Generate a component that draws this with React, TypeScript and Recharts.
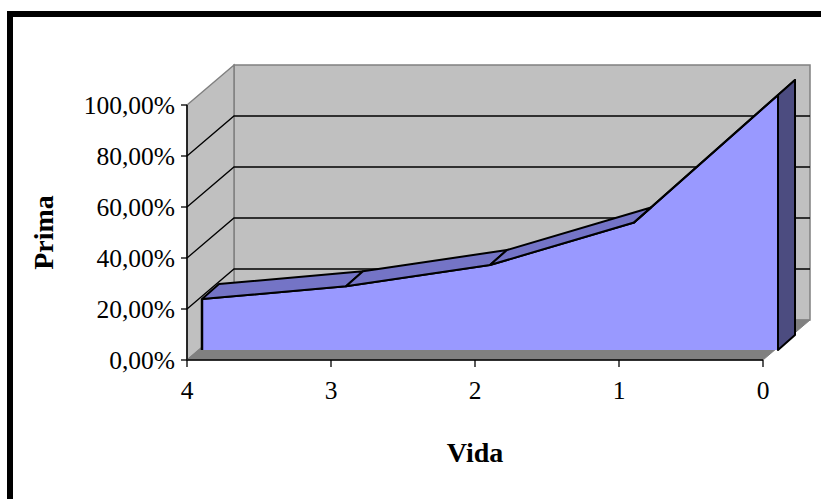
import React from "react";
import {
  ComposedChart,
  Area,
  Line,
  XAxis,
  YAxis,
  ReferenceArea,
  ReferenceLine,
} from "recharts";

const vida = ["4", "3", "2", "1", "0"];
const prima = [0.2, 0.25, 0.3333, 0.5, 1];
const primaTicks = [0, 0.2, 0.4, 0.6, 0.8, 1];

const data = vida.map((v, i) => ({ vida: v, prima: prima[i] }));

// depth offsets (px) for the oblique 3D look
const WALL_DX = 47;
const WALL_DY = 40;
const FACE_DX = 15;
const FACE_DY = 10;
const TOP_DX = 17;
const TOP_DY = 15;

const FONT = "'Liberation Serif', 'Times New Roman', serif";

const WALL = "#c0c0c0";
const WALL_EDGE = "#808080";
const FLOOR = "#808080";
const FRONT = "#9999ff";
const TOP = "#7474c6";
const SIDE = "#4c4c80";

const pct = (v: number) => (v * 100).toFixed(2).replace(".", ",") + "%";

const pts = (arr: number[][]) => arr.map((p) => p.join(",")).join(" ");

// left wall, with the y axis line along its front edge
const SideWall = (p: any) => {
  const x = p.x1;
  const top = Math.min(p.y1, p.y2);
  const bot = Math.max(p.y1, p.y2);
  return (
    <g>
      <polygon
        points={pts([
          [x, bot],
          [x, top],
          [x + WALL_DX, top - WALL_DY],
          [x + WALL_DX, bot - WALL_DY],
        ])}
        fill={WALL}
        stroke={WALL_EDGE}
        strokeWidth={1.5}
      />
      <line x1={x} y1={top} x2={x} y2={bot} stroke="#000" strokeWidth={1.5} />
    </g>
  );
};

// floor slab, with the x axis line along its front edge
const Floor = (p: any) => {
  const l = Math.min(p.x1, p.x2);
  const r = Math.max(p.x1, p.x2);
  const y = p.y1;
  return (
    <g>
      <polygon
        points={pts([
          [l, y],
          [r, y],
          [r + WALL_DX, y - WALL_DY],
          [l + WALL_DX, y - WALL_DY],
        ])}
        fill={FLOOR}
        stroke={WALL_EDGE}
        strokeWidth={1}
      />
      <line x1={l} y1={y} x2={r} y2={y} stroke="#000" strokeWidth={1.5} />
    </g>
  );
};

// gridline: diagonal across the left wall, then along the back wall
const GridLine = (p: any) => {
  const l = Math.min(p.x1, p.x2);
  const r = Math.max(p.x1, p.x2);
  const y = p.y1;
  return (
    <polyline
      points={pts([
        [l, y],
        [l + WALL_DX, y - WALL_DY],
        [r, y - WALL_DY],
      ])}
      fill="none"
      stroke="#000"
      strokeWidth={1.3}
    />
  );
};

// sloped top of the area between two neighbouring points
const TopFace = (p: any) => (
  <polygon
    points={pts([
      [p.x1, p.y1],
      [p.x2, p.y2],
      [p.x2 + TOP_DX, p.y2 - TOP_DY],
      [p.x1 + TOP_DX, p.y1 - TOP_DY],
    ])}
    fill={TOP}
    stroke="#000"
    strokeWidth={2}
    strokeLinejoin="round"
  />
);

// right end cap of the area
const EndFace = (p: any) => {
  const x = p.x1;
  const top = Math.min(p.y1, p.y2);
  const bot = Math.max(p.y1, p.y2);
  return (
    <polygon
      points={pts([
        [x, bot],
        [x, top],
        [x + TOP_DX, top - TOP_DY],
        [x + TOP_DX, bot - TOP_DY],
      ])}
      fill={SIDE}
      stroke="#000"
      strokeWidth={2}
      strokeLinejoin="round"
    />
  );
};

const YTitle = (p: any) => {
  const vb = p.viewBox;
  const x = vb.x + 23;
  const y = vb.y + WALL_DY + (vb.height - WALL_DY) / 2;
  return (
    <text
      x={x}
      y={y}
      transform={`rotate(-90, ${x}, ${y})`}
      textAnchor="middle"
      dominantBaseline="central"
      fontFamily={FONT}
      fontSize={28}
      fontWeight="bold"
      fill="#000"
    >
      Prima
    </text>
  );
};

const XTitle = (p: any) => {
  const vb = p.viewBox;
  const x = vb.x + (vb.width - WALL_DX) / 2;
  return (
    <text
      x={x}
      y={462}
      textAnchor="middle"
      fontFamily={FONT}
      fontSize={28}
      fontWeight="bold"
      fill="#000"
    >
      Vida
    </text>
  );
};

const tickStyle = { fill: "#000", fontSize: 25.5, fontFamily: FONT };

export default function App() {
  const last = vida.length - 1;
  return (
    <div
      style={{
        position: "fixed",
        left: 0,
        top: 0,
        width: 821,
        height: 499,
        overflow: "hidden",
        background: "#fff",
      }}
    >
      <div
        style={{
          position: "absolute",
          left: 7,
          top: 11,
          width: 900,
          height: 600,
          borderLeft: "6px solid #000",
          borderTop: "6px solid #000",
        }}
      />
      <div style={{ position: "absolute", left: 0, top: 0 }}>
        <ComposedChart
          width={821}
          height={499}
          data={data}
          margin={{ top: 65, right: 11, bottom: 79, left: 20 }}
        >
          <XAxis
            xAxisId="front"
            dataKey="vida"
            padding={{ left: 0, right: WALL_DX }}
            axisLine={false}
            tickLine={{ stroke: "#000", strokeWidth: 1.3 }}
            tickSize={7}
            tickMargin={14}
            tick={tickStyle}
            interval={0}
            height={60}
            label={{ content: XTitle }}
          />
          <XAxis
            xAxisId="face"
            dataKey="vida"
            hide
            height={0}
            padding={{ left: FACE_DX, right: WALL_DX - FACE_DX }}
          />
          <XAxis
            xAxisId="back"
            dataKey="vida"
            hide
            height={0}
            padding={{ left: WALL_DX, right: 0 }}
          />
          <YAxis
            yAxisId="front"
            type="number"
            domain={[0, 1]}
            ticks={primaTicks}
            interval={0}
            tickFormatter={pct}
            padding={{ top: WALL_DY, bottom: 0 }}
            axisLine={false}
            tickLine={{ stroke: "#000", strokeWidth: 1.3 }}
            tickSize={6}
            tickMargin={6}
            tick={tickStyle}
            width={167}
            label={{ content: YTitle }}
          />
          <YAxis
            yAxisId="face"
            type="number"
            domain={[0, 1]}
            hide
            width={0}
            padding={{ top: WALL_DY - FACE_DY, bottom: FACE_DY }}
          />
          <YAxis
            yAxisId="back"
            type="number"
            domain={[0, 1]}
            hide
            width={0}
            padding={{ top: 0, bottom: WALL_DY }}
          />

          {/* unstroked series that tie the front and back axes to the data */}
          <Line
            xAxisId="front"
            yAxisId="front"
            dataKey="prima"
            stroke="none"
            dot={false}
            activeDot={false}
            legendType="none"
            isAnimationActive={false}
          />
          <Line
            xAxisId="back"
            yAxisId="back"
            dataKey="prima"
            stroke="none"
            dot={false}
            activeDot={false}
            legendType="none"
            isAnimationActive={false}
          />

          {/* back wall */}
          <ReferenceArea
            xAxisId="back"
            yAxisId="back"
            x1={vida[0]}
            x2={vida[last]}
            y1={0}
            y2={1}
            fill={WALL}
            fillOpacity={1}
            stroke={WALL_EDGE}
            strokeWidth={1.5}
            zIndex={10}
          />
          {/* left wall */}
          <ReferenceLine
            xAxisId="front"
            yAxisId="front"
            segment={[
              { x: vida[0], y: 0 },
              { x: vida[0], y: 1 },
            ]}
            shape={SideWall}
            zIndex={11}
          />
          {/* floor */}
          <ReferenceLine
            xAxisId="front"
            yAxisId="front"
            segment={[
              { x: vida[0], y: 0 },
              { x: vida[last], y: 0 },
            ]}
            shape={Floor}
            zIndex={12}
          />
          {primaTicks.slice(1, -1).map((t) => (
            <ReferenceLine
              key={t}
              xAxisId="front"
              yAxisId="front"
              y={t}
              shape={GridLine}
              zIndex={13}
            />
          ))}

          <Area
            xAxisId="face"
            yAxisId="face"
            type="linear"
            dataKey="prima"
            fill={FRONT}
            fillOpacity={1}
            stroke="#000"
            strokeWidth={2}
            dot={false}
            activeDot={false}
            isAnimationActive={false}
            zIndex={100}
          />

          {/* left edge of the front face */}
          <ReferenceLine
            xAxisId="face"
            yAxisId="face"
            segment={[
              { x: vida[0], y: 0 },
              { x: vida[0], y: prima[0] },
            ]}
            stroke="#000"
            strokeWidth={2.5}
            zIndex={450}
          />
          {vida.slice(0, -1).map((v, i) => (
            <ReferenceLine
              key={v}
              xAxisId="face"
              yAxisId="face"
              segment={[
                { x: v, y: prima[i] },
                { x: vida[i + 1], y: prima[i + 1] },
              ]}
              shape={TopFace}
              zIndex={450}
            />
          ))}
          <ReferenceLine
            xAxisId="face"
            yAxisId="face"
            segment={[
              { x: vida[last], y: 0 },
              { x: vida[last], y: prima[last] },
            ]}
            shape={EndFace}
            zIndex={460}
          />
        </ComposedChart>
      </div>
    </div>
  );
}
